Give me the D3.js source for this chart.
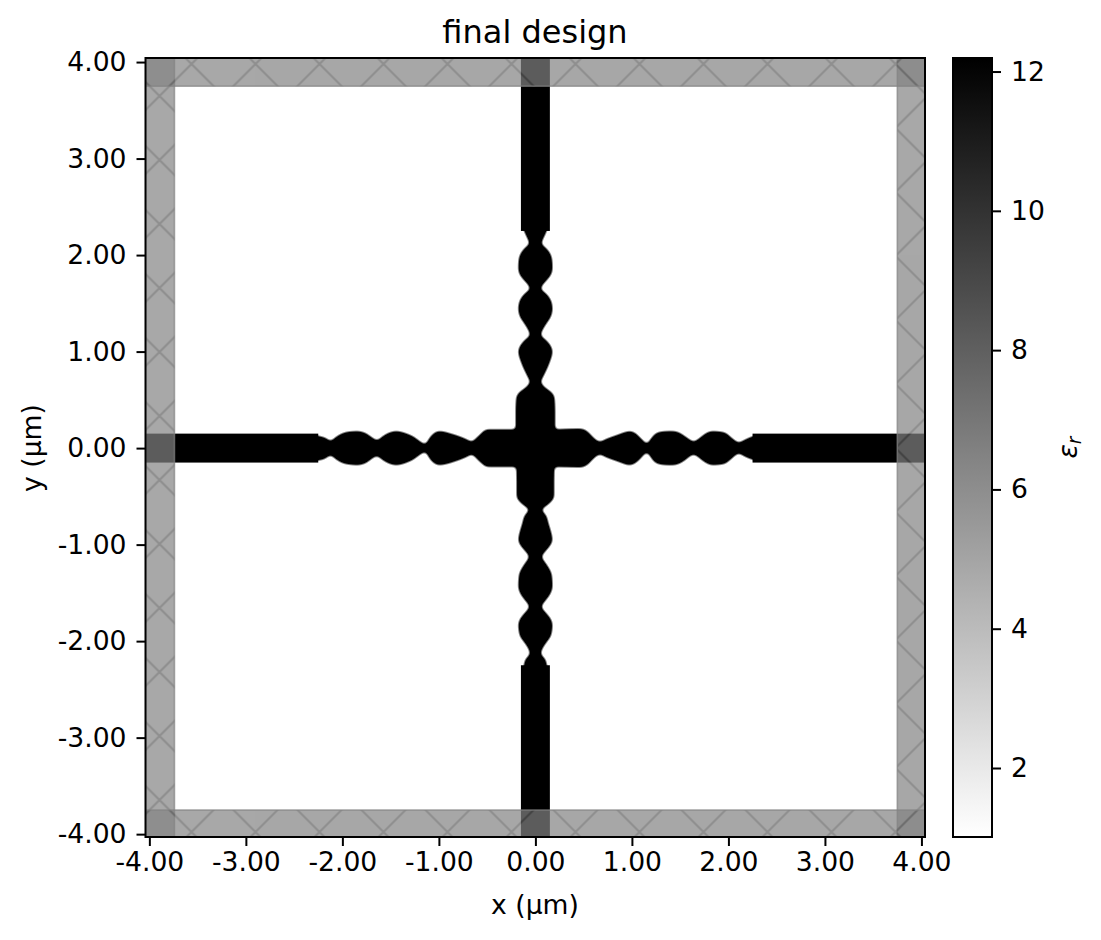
<!DOCTYPE html>
<html><head><meta charset="utf-8">
<script src="https://cdn.jsdelivr.net/npm/d3@7"></script>
<style>
html,body{margin:0;padding:0;background:#fff}
svg{display:block}
text{font-family:"DejaVu Sans",sans-serif;fill:#000}
</style></head><body>
<svg id="c" width="1101" height="940"></svg>
<script>
// Data (µm): design-region profiles
const leftPos  = [-2.33,-2.251,-2.178,-2.12,-2.075,-2.023,-1.937,-1.85,-1.764,-1.705,-1.643,-1.58,-1.521,-1.435,-1.349,-1.263,-1.194,-1.142,-1.09,-1.049,-1.004,-0.848,-0.711,-0.659,-0.607,-0.555,-0.504,-0.227,0];
const leftHw   = [0.140,0.124,0.104,0.069,0.104,0.138,0.166,0.173,0.155,0.114,0.076,0.121,0.155,0.173,0.152,0.114,0.062,0.035,0.110,0.152,0.173,0.138,0.086,0.062,0.104,0.155,0.190,0.190,0.190];
const rightPos = [0,0.195,0.464,0.533,0.585,0.62,0.672,0.723,0.844,0.982,1.034,1.103,1.155,1.207,1.252,1.328,1.431,1.5,1.57,1.639,1.708,1.76,1.829,1.95,2.053,2.105,2.157,2.243,2.33];
const rightHw  = [0.195,0.190,0.197,0.173,0.121,0.086,0.062,0.086,0.131,0.173,0.152,0.086,0.041,0.104,0.152,0.169,0.173,0.152,0.104,0.062,0.104,0.145,0.173,0.162,0.086,0.052,0.076,0.114,0.140];
const topPos   = [0,0.394,0.532,0.567,0.636,0.687,0.739,0.808,0.912,0.998,1.067,1.119,1.171,1.223,1.292,1.361,1.447,1.534,1.596,1.655,1.689,1.741,1.793,1.862,1.948,2.017,2.069,2.121,2.19,2.252,2.33];
const topHw    = [0.200,0.200,0.193,0.173,0.086,0.052,0.076,0.110,0.152,0.173,0.149,0.104,0.052,0.069,0.110,0.155,0.173,0.155,0.110,0.052,0.069,0.114,0.155,0.173,0.169,0.149,0.110,0.059,0.086,0.114,0.140];
const botPos   = [-2.33,-2.249,-2.197,-2.128,-2.076,-2.007,-1.938,-1.834,-1.765,-1.713,-1.644,-1.575,-1.506,-1.437,-1.316,-1.247,-1.195,-1.126,-1.057,-1.005,-0.953,-0.884,-0.781,-0.694,-0.642,-0.573,-0.539,-0.504,-0.332,0];
const botHw    = [0.140,0.114,0.104,0.052,0.069,0.114,0.159,0.173,0.152,0.110,0.059,0.104,0.152,0.173,0.166,0.138,0.104,0.062,0.110,0.152,0.173,0.162,0.131,0.104,0.062,0.138,0.173,0.190,0.190,0.200];
const waveguideH = [[-4.04,-2.25],[2.25,4.04]];
const waveguideV = [[2.25,4.04],[-4.04,-2.25]];
const waveguideHalf = 0.15;
const pmlBars = [[-4.04,-3.74,-4.04,4.04],[3.75,4.04,-4.04,4.04],[-4.04,4.04,3.75,4.04],[-4.04,4.04,-4.04,-3.75]];
const axisTicks = [-4,-3,-2,-1,0,1,2,3,4];
const cbarTicks = [2,4,6,8,10,12];
const epsRange = [1,12.19];

const svg = d3.select("#c");
const L=145.5,R=925,T=58,B=837;
const x = d3.scaleLinear().domain([-4.04,4.04]).range([145.5,925.3]);
const y = d3.scaleLinear().domain([-4.04,4.04]).range([838,58.2]);
const c = d3.scaleLinear().domain(epsRange).range([837.65,58.3]);
const gray = d3.scaleLinear().domain(epsRange).range(["#ffffff","#000000"]);

const defs = svg.append("defs");
// blur then steepen: rounds the outline the way the design's own smoothing does
const soft = defs.append("filter").attr("id","soft")
  .attr("filterUnits","userSpaceOnUse").attr("x",0).attr("y",0).attr("width",1101).attr("height",940)
  .attr("color-interpolation-filters","sRGB");
soft.append("feGaussianBlur").attr("stdDeviation",2);
soft.append("feComponentTransfer").append("feFuncA").attr("type","linear").attr("slope",3).attr("intercept",-0.75);
defs.append("clipPath").attr("id","plot").append("rect").attr("x",L).attr("y",T).attr("width",R-L).attr("height",B-T);
// 64 px lattice of crossing hatch lines
const P=64;
const pat = defs.append("pattern").attr("id","hatch").attr("patternUnits","userSpaceOnUse")
  .attr("width",P).attr("height",P).attr("patternTransform","translate(63.5,0)");
pat.append("path").attr("d",`M-4,-4 L${P+4},${P+4} M-4,${P+4} L${P+4},-4`)
  .attr("stroke","#606060").attr("stroke-width",2.2).attr("fill","none");
const grad = defs.append("linearGradient").attr("id","cb").attr("x1",0).attr("x2",0).attr("y1",1).attr("y2",0);
d3.range(0,1.0001,0.1).forEach(t=>{
  const v=epsRange[0]+t*(epsRange[1]-epsRange[0]);
  grad.append("stop").attr("offset",t).attr("stop-color",gray(v));
});

const plot = svg.append("g").attr("clip-path","url(#plot)");
const design = plot.append("g").attr("filter","url(#soft)");
const hArea = d3.area().x(d=>x(d[0])).y0(d=>y(d[1])).y1(d=>y(-d[1])).curve(d3.curveMonotoneX);
const vArea = d3.area().y(d=>y(d[0])).x0(d=>x(d[1])).x1(d=>x(-d[1])).curve(d3.curveMonotoneY);
design.append("path").attr("d",hArea(d3.zip(leftPos,leftHw)));
design.append("path").attr("d",hArea(d3.zip(rightPos,rightHw)));
design.append("path").attr("d",vArea(d3.zip(topPos,topHw)));
design.append("path").attr("d",vArea(d3.zip(botPos,botHw)));

plot.selectAll("rect.wh").data(waveguideH).join("rect").attr("class","wh")
  .attr("x",d=>x(d[0])).attr("width",d=>x(d[1])-x(d[0]))
  .attr("y",y(waveguideHalf)).attr("height",y(-waveguideHalf)-y(waveguideHalf));
plot.selectAll("rect.wv").data(waveguideV).join("rect").attr("class","wv")
  .attr("y",d=>y(d[1])).attr("height",d=>y(d[0])-y(d[1]))
  .attr("x",x(-waveguideHalf)).attr("width",x(waveguideHalf)-x(-waveguideHalf));

pmlBars.forEach(b=>{
  const r={x:x(b[0]),y:y(b[3]),width:x(b[1])-x(b[0]),height:y(b[2])-y(b[3])};
  const g=plot.append("g").attr("opacity",0.7);
  g.append("rect").attr("x",r.x).attr("y",r.y).attr("width",r.width).attr("height",r.height).attr("fill","#838383");
  g.append("rect").attr("x",r.x).attr("y",r.y).attr("width",r.width).attr("height",r.height).attr("fill","url(#hatch)");
  plot.append("rect").attr("x",r.x).attr("y",r.y).attr("width",r.width).attr("height",r.height)
    .attr("fill","none").attr("stroke","#838383").attr("stroke-width",1.6).attr("opacity",0.7);
});

// frame & axes
const fmt = v => (v<0?"-":"")+d3.format(".2f")(Math.abs(v));
const styleAxis = g=>{
  g.select(".domain").remove();
  g.selectAll("line").attr("stroke","#000").attr("stroke-width",2);
  g.selectAll("text").attr("font-size",26.6).attr("font-family","DejaVu Sans").attr("fill","#000");
};
svg.append("g").attr("transform",`translate(0,${B})`)
  .call(d3.axisBottom(x).tickValues(axisTicks).tickFormat(fmt).tickSize(9).tickPadding(6)).call(styleAxis);
svg.append("g").attr("transform",`translate(${L},0)`)
  .call(d3.axisLeft(y).tickValues(axisTicks).tickFormat(fmt).tickSize(9).tickPadding(10)).call(styleAxis);
svg.append("rect").attr("x",L).attr("y",T).attr("width",R-L).attr("height",B-T)
  .attr("fill","none").attr("stroke","#000").attr("stroke-width",2);

// colorbar
const cbL=953,cbR=992;
svg.append("rect").attr("x",cbL).attr("y",T).attr("width",cbR-cbL).attr("height",B-T).attr("fill","url(#cb)");
svg.append("g").attr("transform",`translate(${cbR},0)`)
  .call(d3.axisRight(c).tickValues(cbarTicks).tickSize(9).tickPadding(10)).call(styleAxis);
svg.append("rect").attr("x",cbL).attr("y",T).attr("width",cbR-cbL).attr("height",B-T)
  .attr("fill","none").attr("stroke","#000").attr("stroke-width",2);

// labels
svg.append("text").attr("x",535).attr("y",43).attr("text-anchor","middle").attr("font-size",32).text("final design");
svg.append("text").attr("x",535).attr("y",914).attr("text-anchor","middle").attr("font-size",26.6).text("x (µm)");
svg.append("text").attr("transform","translate(41,448) rotate(-90)").attr("text-anchor","middle").attr("font-size",26.6).text("y (µm)");
const el=svg.append("text").attr("transform","translate(1077,447.5) rotate(-90)").attr("text-anchor","middle").attr("font-size",26.6);
el.append("tspan").attr("font-style","italic").text("ε");
el.append("tspan").attr("font-style","italic").attr("font-size",18.6).attr("dy",4).text("r");
</script></body></html>
